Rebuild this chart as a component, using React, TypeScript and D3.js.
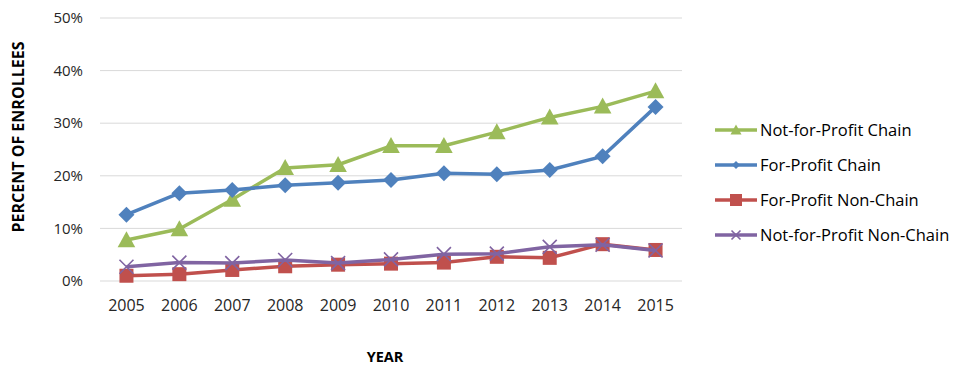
import * as d3 from "d3";
import { useEffect, useRef } from "react";

// data
const years = ["2005", "2006", "2007", "2008", "2009", "2010", "2011", "2012", "2013", "2014", "2015"];
const notForProfitChain = [7.8, 9.9, 15.5, 21.5, 22.1, 25.7, 25.7, 28.3, 31.1, 33.2, 36.1];
const forProfitChain = [12.6, 16.7, 17.3, 18.2, 18.7, 19.2, 20.5, 20.3, 21.1, 23.7, 33.1];
const forProfitNonChain = [1.0, 1.3, 2.1, 2.8, 3.1, 3.3, 3.5, 4.6, 4.4, 7.0, 5.9];
const notForProfitNonChain = [2.7, 3.5, 3.4, 4.0, 3.4, 4.1, 5.1, 5.2, 6.5, 6.9, 5.8];
const yTicks = [0, 10, 20, 30, 40, 50];

const series = [
  { name: "Not-for-Profit Chain", values: notForProfitChain, color: "#9BBB59", marker: "triangle" },
  { name: "For-Profit Chain", values: forProfitChain, color: "#4F81BD", marker: "diamond" },
  { name: "For-Profit Non-Chain", values: forProfitNonChain, color: "#C0504D", marker: "square" },
  { name: "Not-for-Profit Non-Chain", values: notForProfitNonChain, color: "#8064A2", marker: "cross" },
];

const FONT = "'Open Sans', sans-serif";

const App = () => {
  const chartRef = useRef(null);
  const width = 962;
  const height = 376;
  const margin = { top: 18, left: 100, right: 280, bottom: 95 };

  useEffect(() => {
    const svg = d3.select(chartRef.current);
    svg.selectAll("*").remove();

    const x = d3.scaleBand().domain(years).range([margin.left, width - margin.right]);
    const y = d3.scaleLinear().domain([0, 50]).range([height - margin.bottom, margin.top]);
    const cx = (d) => x(d) + x.bandwidth() / 2;

    // grid lines
    svg.append("g")
      .selectAll("line")
      .data(yTicks)
      .enter()
      .append("line")
      .attr("x1", margin.left)
      .attr("x2", width - margin.right)
      .attr("y1", d => y(d))
      .attr("y2", d => y(d))
      .attr("stroke", "#d9d9d9")
      .attr("stroke-width", 1);

    // y tick labels
    svg.append("g")
      .selectAll("text")
      .data(yTicks)
      .enter()
      .append("text")
      .attr("x", 83)
      .attr("y", d => y(d))
      .attr("dy", "0.35em")
      .attr("text-anchor", "end")
      .style("font-family", FONT)
      .style("font-size", "15px")
      .style("fill", "#262626")
      .text(d => d + "%");

    // x tick labels
    svg.append("g")
      .selectAll("text")
      .data(years)
      .enter()
      .append("text")
      .attr("x", d => cx(d))
      .attr("y", 305)
      .attr("dy", "0.35em")
      .attr("text-anchor", "middle")
      .style("font-family", FONT)
      .style("font-size", "16px")
      .style("fill", "#262626")
      .text(d => d);

    // axis titles
    svg.append("text")
      .attr("x", 385)
      .attr("y", 357)
      .attr("dy", "0.35em")
      .attr("text-anchor", "middle")
      .style("font-family", FONT)
      .style("font-size", "14.5px")
      .style("font-weight", "bold")
      .style("fill", "#000")
      .text("YEAR");

    svg.append("text")
      .attr("transform", "translate(18,137) rotate(-90)")
      .attr("dy", "0.35em")
      .attr("text-anchor", "middle")
      .style("font-family", FONT)
      .style("font-size", "16px")
      .style("font-weight", "bold")
      .style("fill", "#000")
      .text("PERCENT OF ENROLLEES");

    const drawMarker = (g, type, px, py, color, s) => {
      if (type === "triangle") {
        g.append("path")
          .attr("d", `M${px},${py - s * 0.55}L${px + s * 0.55},${py + s * 0.45}L${px - s * 0.55},${py + s * 0.45}Z`)
          .attr("fill", color);
      } else if (type === "diamond") {
        g.append("path")
          .attr("d", `M${px},${py - s / 2}L${px + s / 2},${py}L${px},${py + s / 2}L${px - s / 2},${py}Z`)
          .attr("fill", color);
      } else if (type === "square") {
        g.append("rect")
          .attr("x", px - s / 2)
          .attr("y", py - s / 2)
          .attr("width", s)
          .attr("height", s)
          .attr("fill", color);
      } else {
        const h = s / 2;
        g.append("path")
          .attr("d", `M${px - h},${py - h}L${px + h},${py + h}M${px + h},${py - h}L${px - h},${py + h}`)
          .attr("stroke", color)
          .attr("stroke-width", 1.6)
          .attr("fill", "none");
      }
    };

    const markerSize = { triangle: 16, diamond: 16, square: 14, cross: 14 };

    const line = d3.line()
      .x((d, i) => cx(years[i]))
      .y(d => y(d));

    series.forEach(s => {
      const g = svg.append("g");
      g.append("path")
        .datum(s.values)
        .attr("d", line)
        .attr("fill", "none")
        .attr("stroke", s.color)
        .attr("stroke-width", 3.5)
        .attr("stroke-linejoin", "round");
      s.values.forEach((v, i) => drawMarker(g, s.marker, cx(years[i]), y(v), s.color, markerSize[s.marker]));
    });

    // legend
    const legendSize = { triangle: 10, diamond: 8, square: 12, cross: 9 };
    series.forEach((s, i) => {
      const ly = 130 + i * 35;
      const g = svg.append("g");
      g.append("line")
        .attr("x1", 715)
        .attr("x2", 757)
        .attr("y1", ly)
        .attr("y2", ly)
        .attr("stroke", s.color)
        .attr("stroke-width", 3.5);
      drawMarker(g, s.marker, 736, ly, s.color, legendSize[s.marker]);
      g.append("text")
        .attr("x", 760)
        .attr("y", ly)
        .attr("dy", "0.35em")
        .style("font-family", FONT)
        .style("font-size", "16.5px")
        .style("fill", "#000")
        .text(s.name);
    });
  }, []);

  return (
    <svg
      ref={chartRef}
      width={width}
      height={height}
      style={{ position: "absolute", left: 0, top: 0, background: "#fff" }}
    ></svg>
  );
};

export default App;
